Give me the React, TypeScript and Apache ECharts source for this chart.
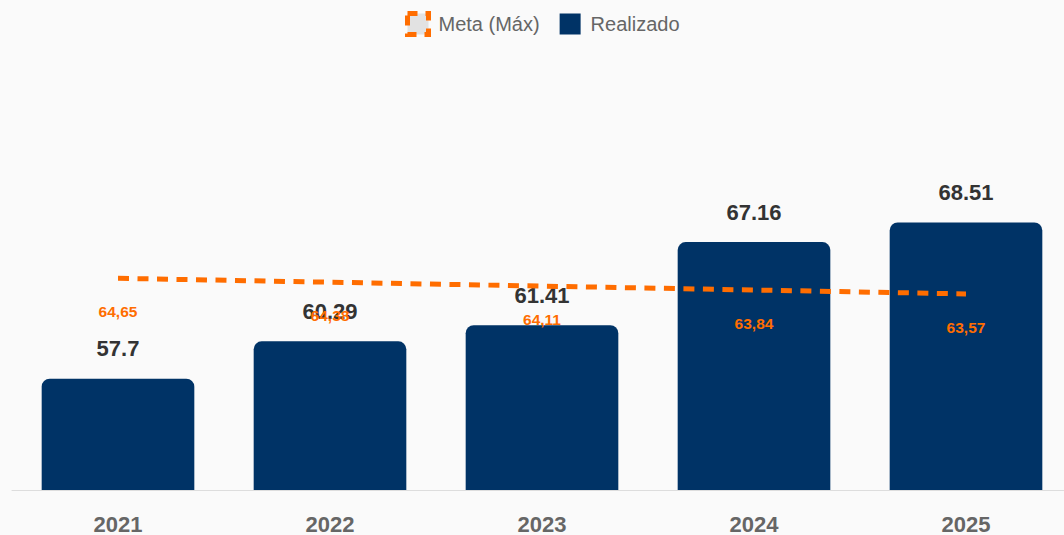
import React, { useEffect, useRef } from "react";
import * as echarts from "echarts";

const categories = ["2021", "2022", "2023", "2024", "2025"];
const realizado = [57.7, 60.29, 61.41, 67.16, 68.51];
const meta = [64.65, 64.38, 64.11, 63.84, 63.57];

const ORANGE = "#ff6d00";
const NAVY = "#003366";

export default function App() {
  const ref = useRef<HTMLDivElement>(null);
  useEffect(() => {
    if (!ref.current) return;
    const chart = echarts.init(ref.current, null, { renderer: "svg" });
    chart.setOption({
      animation: false,
      backgroundColor: "#fafafa",
      textStyle: { fontFamily: "Liberation Sans, Arial, sans-serif" },
      legend: {
        top: 6,
        left: 400,
        itemWidth: 21,
        itemHeight: 21,
        itemGap: 20,
        textStyle: { color: "#666", fontSize: 20, padding: [0, 0, 0, 5] },
        data: [
          {
            name: "Meta (Máx)",
            icon: "rect",
            itemStyle: {
              color: "#e2e2e2",
              borderColor: ORANGE,
              borderWidth: 5,
              borderType: [10, 8],
            },
          },
          { name: "Realizado", icon: "rect", itemStyle: { color: NAVY } },
        ],
      },
      grid: { left: 12, right: 0, top: 201, bottom: 44 },
      xAxis: {
        type: "category",
        data: categories,
        axisLine: { show: true, lineStyle: { color: "#dddddd", width: 1 } },
        axisTick: { show: false },
        axisLabel: {
          color: "#666",
          fontSize: 22,
          fontWeight: "bold",
          margin: 23,
        },
      },
      yAxis: {
        type: "value",
        min: 50,
        max: 70,
        show: false,
        splitLine: { show: false },
      },
      series: [
        {
          name: "Realizado",
          type: "bar",
          data: realizado,
          barWidth: "72%",
          itemStyle: { color: NAVY, borderRadius: [8, 8, 0, 0] },
          label: {
            show: true,
            position: "top",
            distance: 19,
            color: "#333",
            fontSize: 22,
            fontWeight: "bold",
          },
          z: 2,
        },
        {
          name: "Meta (Máx)",
          type: "line",
          data: meta,
          symbol: "circle",
          symbolSize: 1,
          showSymbol: true,
          lineStyle: { color: ORANGE, width: 5, type: [11, 8.5], cap: "butt" },
          itemStyle: { color: "rgba(0,0,0,0)" },
          label: {
            show: true,
            position: "bottom",
            distance: 25,
            color: ORANGE,
            fontSize: 15.5,
            fontWeight: "bold",
            formatter: (p: any) => Number(p.value).toFixed(2).replace(".", ","),
          },
          z: 5,
        },
      ],
    });
    return () => chart.dispose();
  }, []);
  return (
    <div
      ref={ref}
      style={{ position: "fixed", left: 0, top: 0, width: 1072, height: 535 }}
    />
  );
}
